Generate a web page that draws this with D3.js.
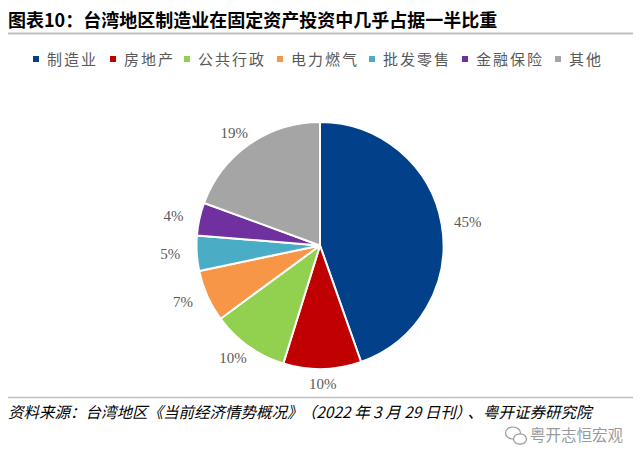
<!DOCTYPE html>
<html><head><meta charset="utf-8">
<script src="https://cdn.jsdelivr.net/npm/d3@7"></script>
<style>body{margin:0;background:#fff;} svg{display:block;}</style>
</head><body>
<svg id="c" width="640" height="461"></svg>
<script>
const categories = ["制造业","房地产","公共行政","电力燃气","批发零售","金融保险","其他"];
const values = [44.6, 10.2, 10.1, 6.8, 4.6, 4.3, 19.4];
const labels = ["45%","10%","10%","7%","5%","4%","19%"];
const colors = ["#02418A","#C00000","#92D050","#F79646","#4BACC6","#7030A0","#A5A5A5"];
const titleText = "图表10：台湾地区制造业在固定资产投资中几乎占据一半比重";
const sourceParts = ["资料来源：台湾地区《当前经济情势概况》", "（2022 年 3 月 29 日刊）", "、粤开证券研究院"];
const watermark = "粤开志恒宏观";

const svg = d3.select("#c");

// title
svg.append("text").attr("x", 8).attr("y", 27)
  .attr("font-family", "'Noto Sans CJK SC', sans-serif").attr("font-weight", "bold")
  .attr("font-size", 18).attr("fill", "#000").text(titleText);
svg.append("line").attr("x1", 8).attr("x2", 633).attr("y1", 33.5).attr("y2", 33.5)
  .attr("stroke", "#BFBFBF").attr("stroke-width", 2);

// legend
const legendX = [36, 113, 187, 280, 372, 465, 558];
const lg = svg.append("g");
categories.forEach((c, i) => {
  const g = lg.append("g").attr("transform", `translate(${legendX[i]},59)`);
  g.append("rect").attr("x", -3).attr("y", -3).attr("width", 6).attr("height", 6).attr("fill", colors[i]);
  g.append("text").attr("x", 11).attr("y", 5.5)
    .attr("font-family", "'Noto Sans CJK SC', sans-serif").attr("font-size", 15)
    .attr("letter-spacing", 2).attr("fill", "#595959").text(c);
});

// pie
const cx = 320, cy = 245.5, r = 123.5;
const pie = d3.pie().sort(null).value(d => d).startAngle(0).endAngle(2 * Math.PI);
const arcs = pie(values);
const arc = d3.arc().innerRadius(0).outerRadius(r);
const pg = svg.append("g").attr("transform", `translate(${cx},${cy})`);
pg.selectAll("path").data(arcs).join("path")
  .attr("d", arc).attr("fill", (d, i) => colors[i])
  .attr("stroke", "#fff").attr("stroke-width", 2).attr("stroke-linejoin", "round");

const lrx = 150, lry = 138;
pg.selectAll("text.lbl").data(arcs).join("text").attr("class", "lbl")
  .attr("x", d => Math.sin((d.startAngle + d.endAngle) / 2) * lrx)
  .attr("y", d => -Math.cos((d.startAngle + d.endAngle) / 2) * lry)
  .attr("dy", "0.35em").attr("text-anchor", "middle")
  .attr("font-family", "'Liberation Serif', 'Times New Roman', serif")
  .attr("font-size", 15).attr("fill", "#595959")
  .text((d, i) => labels[i]);

// source
svg.append("line").attr("x1", 8).attr("x2", 633).attr("y1", 397.5).attr("y2", 397.5)
  .attr("stroke", "#BFBFBF").attr("stroke-width", 1.5);
const st = svg.append("text").attr("x", 8).attr("y", 418)
  .attr("font-family", "'Noto Sans CJK SC', sans-serif").attr("font-size", 15.5)
  .attr("font-style", "italic").attr("fill", "#000");
st.append("tspan").text(sourceParts[0]);
st.append("tspan").attr("dx", 6).text(sourceParts[1]);
st.append("tspan").attr("dx", 4).text(sourceParts[2]);

// watermark
const wm = svg.append("g").attr("transform", "translate(505,435)").attr("fill", "none").attr("stroke", "#9a9a9a").attr("stroke-width", 1.2);
wm.append("ellipse").attr("cx", 8).attr("cy", -2).attr("rx", 7.5).attr("ry", 6);
wm.append("ellipse").attr("cx", 15).attr("cy", 4).attr("rx", 6.5).attr("ry", 5.2).attr("fill", "#fff");
svg.append("text").attr("x", 530).attr("y", 441)
  .attr("font-family", "'Noto Sans CJK SC', sans-serif").attr("font-size", 15.5)
  .attr("fill", "#9a9a9a").text(watermark);
</script>
</body></html>
